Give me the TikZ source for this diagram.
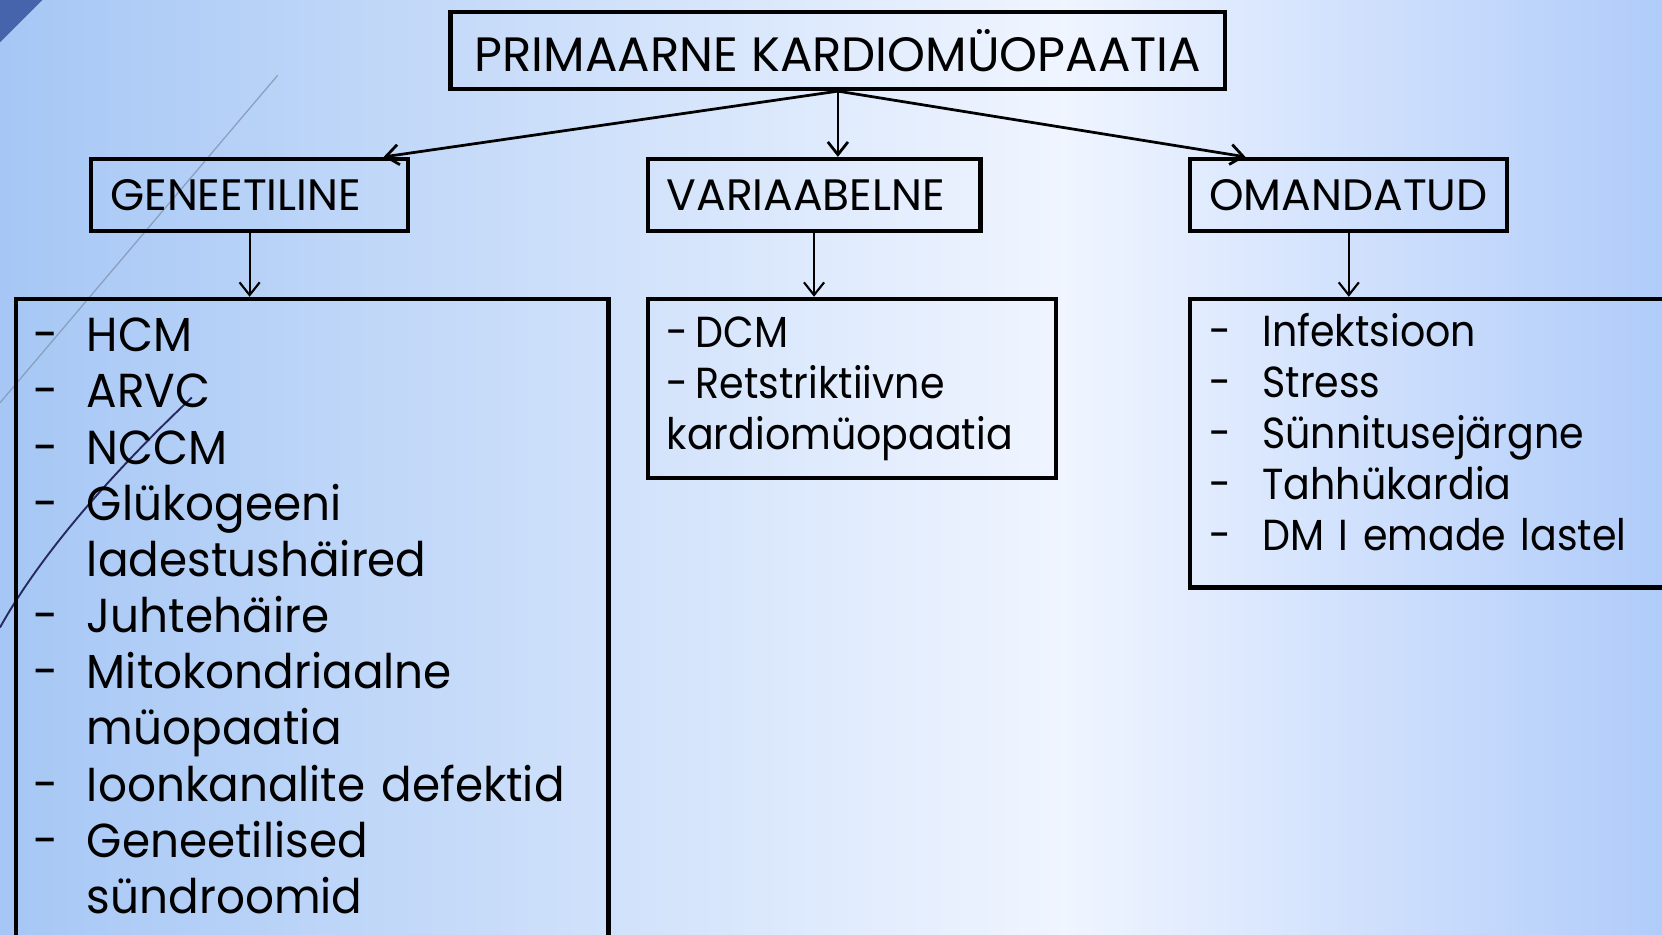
\documentclass[tikz,border=0pt]{standalone}
\usepackage{fontspec}
\setmainfont{Poppins}
\newfontfamily\widelist[FakeStretch=0.95]{Poppins}
\newfontfamily\narrowlist[FakeStretch=0.91]{Poppins}
\usepackage{tikz}
\usetikzlibrary{arrows.meta}

\definecolor{cornerblue}{RGB}{70,100,172}
\definecolor{thinline}{RGB}{140,158,190}
\definecolor{darkline}{RGB}{40,42,95}
\pgfdeclarehorizontalshading{slidebg}{100bp}{rgb(0bp)=(0.65,0.78,0.96); rgb(25bp)=(0.65,0.78,0.96);
  rgb(57bp)=(0.94,0.96,1); rgb(75bp)=(0.69,0.80,0.98); rgb(100bp)=(0.69,0.80,0.98)}

\hyphenpenalty=10000
\newcommand{\dashitem}{\makebox[50pt][l]{-}}
\newcommand{\dashcont}{\hspace*{50pt}}

\begin{document}
\begin{tikzpicture}[x=1pt,y=-1pt,>={Straight Barb[length=12pt,width=19pt]},
    box/.style={draw,line width=4pt,align=left,anchor=north west,inner xsep=18pt},
    head box/.style={box,minimum height=68pt,font=\fontsize{41.5}{48}\selectfont},
    list box/.style={box,inner ysep=19pt,font=\narrowlist\fontsize{41}{48}\selectfont},
    link/.style={->,line width=2.6pt},
    down/.style={->,line width=2pt}]

  \useasboundingbox (0,0) rectangle (1568,882);
  \clip (0,0) rectangle (1568,882);
  \shade[shading=slidebg] (0,0) rectangle (1568,882);
  \fill[cornerblue] (0,0) -- (40,0) -- (0,40) -- cycle;
  \draw[thinline,line width=1.2pt] (262,71) -- (0,380);
  \draw[darkline,line width=1.8pt] (181,375) .. controls (110,442) and (40,520) .. (0,592);

  \node[draw,line width=4pt,minimum width=731pt,minimum height=73pt,
        font=\fontsize{45.5}{48}\selectfont] (prim) at (790.5,47.5) {PRIMAARNE KARDIOMÜOPAATIA};

  \node[head box,text width=263pt] (gen) at (84,148) {GENEETILINE};
  \node[head box,text width=278pt] (var) at (609,148) {VARIAABELNE};
  \node[head box,text width=263pt] (oma) at (1121,148) {OMANDATUD};

  \node[list box,inner xsep=17pt,inner ysep=18pt,text width=525pt,text depth=620pt,
        font=\widelist\fontsize{45}{53}\selectfont] (genlist) at (13,280) {%
    \dashitem HCM\\
    \dashitem ARVC\\
    \dashitem NCCM\\
    \dashitem Glükogeeni\\
    \dashcont ladestushäired\\
    \dashitem Juhtehäire\\
    \dashitem Mitokondriaalne\\
    \dashcont müopaatia\\
    \dashitem Ioonkanalite defektid\\
    \dashitem Geneetilised\\
    \dashcont sündroomid};

  \node[list box,inner ysep=17pt,text width=349pt,text depth=106pt] (varlist) at (609,280) {%
    -\hspace{7pt}DCM\\
    -\hspace{7pt}Retstriktiivne\\
    kardiomüopaatia};

  \node[list box,inner ysep=14pt,text width=464pt,text depth=213pt] (omalist) at (1121,280) {%
    \dashitem Infektsioon\\
    \dashitem Stress\\
    \dashitem Sünnitusejärgne\\
    \dashitem Tahhükardia\\
    \dashitem DM I emade lastel};

  \draw[link] (prim.south) -- ([xshift=-25pt]gen.north east);
  \draw[link] (prim.south) -- (prim.south |- var.north);
  \draw[link] (prim.south) -- ([xshift=54pt]oma.north west);

  \draw[down] (gen.south) -- (gen.south |- genlist.north);
  \draw[down] (var.south) -- (var.south |- varlist.north);
  \draw[down] (oma.south) -- (oma.south |- omalist.north);
\end{tikzpicture}
\end{document}
